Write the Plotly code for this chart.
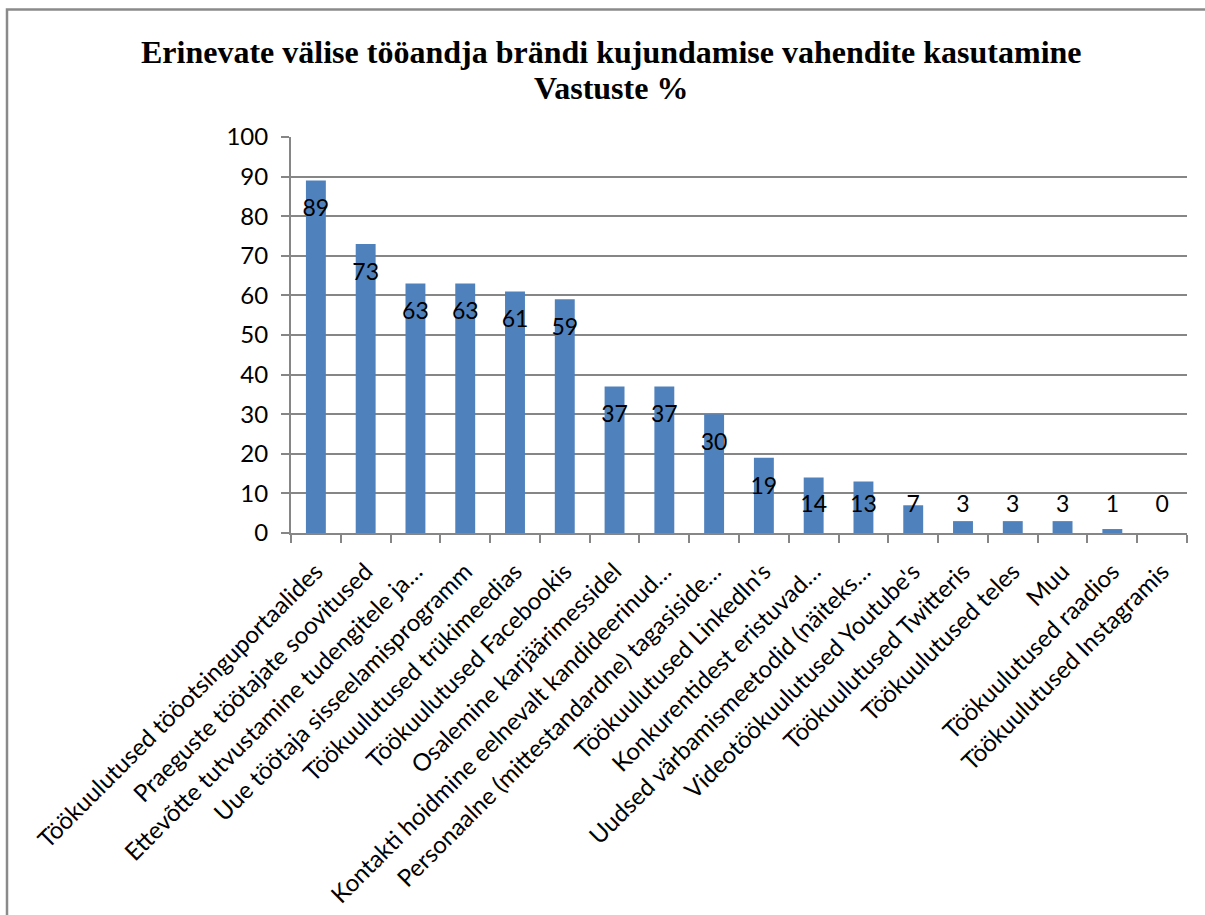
import plotly.graph_objects as go

# Survey results: share of respondents (%) using each employer-branding tool
categories = [
    "Töökuulutused tööotsinguportaalides",
    "Praeguste töötajate soovitused",
    "Ettevõtte tutvustamine tudengitele ja…",
    "Uue töötaja sisseelamisprogramm",
    "Töökuulutused trükimeedias",
    "Töökuulutused Facebookis",
    "Osalemine karjäärimessidel",
    "Kontakti hoidmine eelnevalt kandideerinud…",
    "Personaalne (mittestandardne) tagasiside…",
    "Töökuulutused LinkedIn's",
    "Konkurentidest eristuvad…",
    "Uudsed värbamismeetodid (näiteks…",
    "Videotöökuulutused Youtube's",
    "Töökuulutused Twitteris",
    "Töökuulutused teles",
    "Muu",
    "Töökuulutused raadios",
    "Töökuulutused Instagramis",
]
values = [89, 73, 63, 63, 61, 59, 37, 37, 30, 19, 14, 13, 7, 3, 3, 3, 1, 0]
y_ticks = [0, 10, 20, 30, 40, 50, 60, 70, 80, 90, 100]

TITLE_LINES = ["Erinevate välise tööandja brändi kujundamise vahendite kasutamine", "Vastuste %"]
BAR_COLOR = "#4F81BD"
GRID_COLOR = "#868686"
LABEL_FONT = "Lato"

W, H = 1205, 915
M_L, M_R, M_T, M_B = 291, 18, 137, 382

plot_w = W - M_L - M_R
plot_h = H - M_T - M_B


def px_x(p):
    """Figure pixel column -> paper x."""
    return (p - M_L) / plot_w


def px_y(p):
    """Figure pixel row (from top) -> paper y."""
    return (H - M_B - p) / plot_h


fig = go.Figure()

fig.add_trace(go.Bar(
    x=categories,
    y=values,
    marker=dict(color=BAR_COLOR, line=dict(width=0)),
    hoverinfo="x+y",
    showlegend=False,
))

# Value labels sit just inside the bar end, but never lower than a floor near the axis
label_y = [max(v - 7.6, 6.8) for v in values]
fig.add_trace(go.Scatter(
    x=categories,
    y=label_y,
    mode="text",
    text=[str(v) for v in values],
    textposition="middle center",
    textfont=dict(family=LABEL_FONT, size=23, color="#000000"),
    hoverinfo="skip",
    showlegend=False,
))

# Chart-area frame (left and top edges)
fig.add_shape(type="path", xref="paper", yref="paper",
              path=f"M {px_x(7)} {px_y(H + 5)} L {px_x(7)} {px_y(9.5)} L {px_x(W + 5)} {px_y(9.5)}",
              line=dict(color="#8A8A8A", width=2.5), layer="above")

# Two-line bold title
title_font = dict(family="Liberation Serif", size=32, color="#000000", weight="bold")
for text, row in zip(TITLE_LINES, [52, 88]):
    fig.add_annotation(
        text=text, xref="paper", yref="paper",
        x=px_x(611), y=px_y(row), xanchor="center", yanchor="middle",
        showarrow=False, font=title_font,
    )

fig.update_layout(
    width=W, height=H,
    margin=dict(l=M_L, r=M_R, t=M_T, b=M_B, autoexpand=False),
    paper_bgcolor="#FFFFFF",
    plot_bgcolor="#FFFFFF",
    bargap=0.6,
    xaxis=dict(
        type="category",
        range=[-0.5, len(categories) - 0.5],
        tickangle=-45,
        tickfont=dict(family=LABEL_FONT, size=24, color="#000000"),
        ticklabelstandoff=13,
        showgrid=False,
        showline=True, linecolor=GRID_COLOR, linewidth=2,
        ticks="outside", tickson="boundaries", ticklen=8, tickwidth=2, tickcolor=GRID_COLOR,
        automargin=False,
    ),
    yaxis=dict(
        range=[0, 100],
        tickvals=y_ticks,
        tickfont=dict(family=LABEL_FONT, size=24, color="#000000"),
        ticklabelstandoff=8,
        showgrid=True, gridcolor=GRID_COLOR, gridwidth=2,
        showline=True, linecolor=GRID_COLOR, linewidth=2,
        ticks="outside", ticklen=8, tickwidth=2, tickcolor=GRID_COLOR,
        zeroline=False,
        automargin=False,
    ),
)

fig.write_html("out.html")
